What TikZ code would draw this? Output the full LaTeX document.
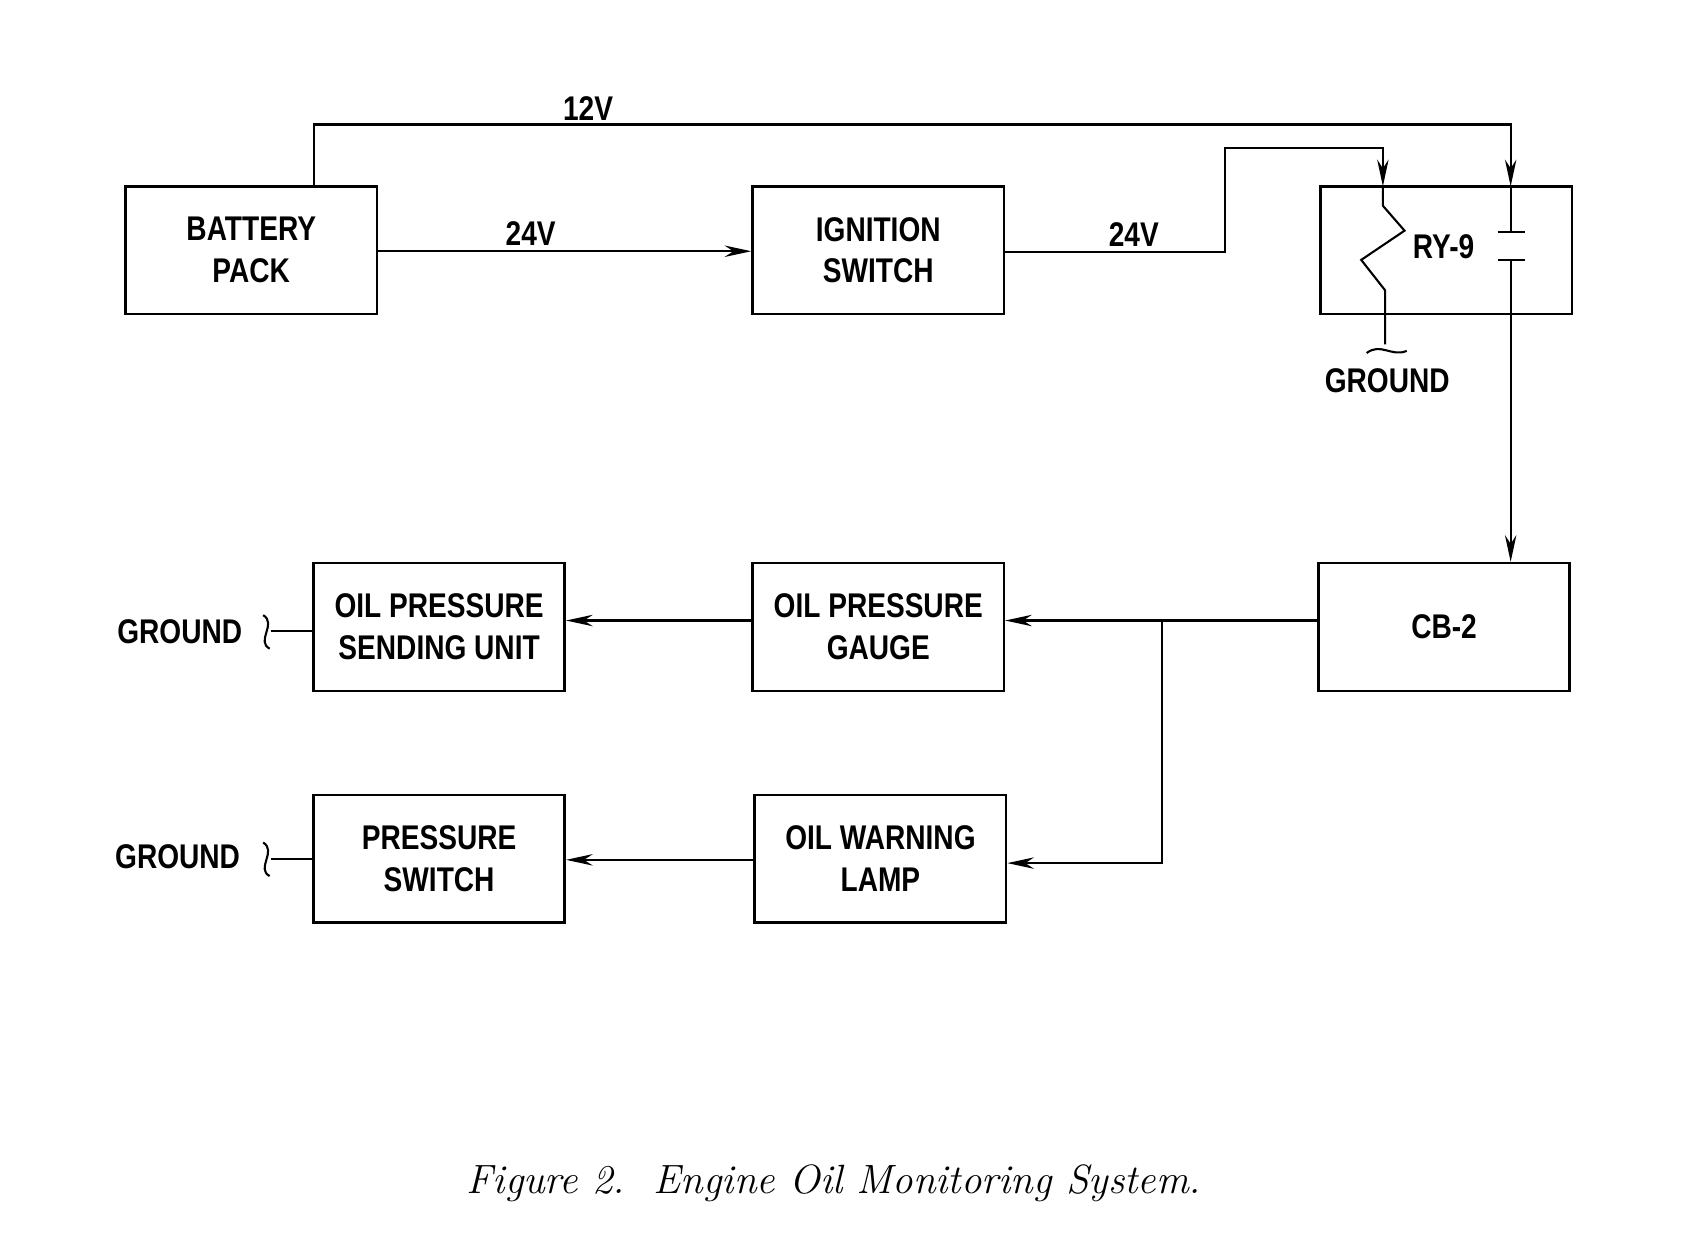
\documentclass[tikz,border=0pt]{standalone}
\usepackage{fontspec}
\setmainfont{Latin Modern Roman}
\newfontfamily\labf[FakeStretch=0.82]{Liberation Sans Bold}
\usetikzlibrary{arrows.meta}
\begin{document}
\begin{tikzpicture}[x=0.02cm,y=-0.02cm,
  box/.style={draw,line width=1.4pt,minimum width=4.64cm,minimum height=2.36cm,inner sep=0pt,align=center,font=\labf\fontsize{18}{22}\selectfont},
  lab/.style={font=\labf\fontsize{18}{22}\selectfont,inner sep=1pt},
  wire/.style={line width=1.1pt},
  arr/.style={wire,-{Stealth[length=14pt,width=6pt]}}]
\useasboundingbox (0,0) rectangle (1568,1161);
\node[box] (bat) at (232,231) {BATTERY\\PACK};
\node[box] (ign) at (811,231) {IGNITION\\SWITCH};
\node[box] (ry) at (1335.5,231) {};
\node[box] (cb) at (1333.5,579) {CB-2};
\node[box] (opsu) at (405.5,579) {OIL PRESSURE\\SENDING UNIT};
\node[box] (opg) at (811,579) {OIL PRESSURE\\GAUGE};
\node[box] (ps) at (405.5,793) {PRESSURE\\SWITCH};
\node[box] (owl) at (813,793) {OIL WARNING\\LAMP};
\node[lab] (ryl) at (1333,228) {RY-9};
\node[lab] (v12) at (543,100) {12V};
\node[lab] (v24a) at (490,216) {24V};
\node[lab] (v24b) at (1047,217) {24V};
\node[lab] (gr) at (1281,352) {GROUND};
\node[lab] (g1) at (166,583) {GROUND};
\node[lab] (g2) at (164,791) {GROUND};
\node[font=\itshape\fontsize{21.5}{26}\selectfont] (cap) at (770,1093) {Figure 2.\ \ Engine Oil Monitoring System.};
\coordinate (c12) at (1395,172);
\coordinate (c24) at (1277,172);
\draw[arr] (bat.north -| 290,0) |- (1395,115) -- (c12);
\draw[arr] (bat.east |- 0,232) -- (ign.west |- 0,232);
\draw[arr] (ign.east |- 0,233) -- (1131,233) |- (1277,137) -- (c24);
\draw[wire] (c24) -- (1277,190) -- (1297,213) -- (1257,240) -- (1279,268) -- (1279,318);
\draw[wire] (1262,326) .. controls (1275,316) and (1285,330) .. (1299,324);
\draw[wire] (c12) -- (1395,214);
\draw[wire] (1383,214) -- (1408,214) (1383,240) -- (1408,240);
\draw[arr] (1395,240) -- (cb.north -| 1395,0);
\coordinate (j) at (1073,573);
\draw[arr] (cb.west |- 0,573) -- (opg.east |- 0,573);
\draw[arr] (j) |- (owl.east |- 0,797);
\draw[arr] (opg.west |- 0,573) -- (opsu.east |- 0,573);
\draw[arr] (owl.west |- 0,794) -- (ps.east |- 0,794);
\draw[wire] (250,583) -- (opsu.west |- 0,583);
\draw[wire] (243,568) .. controls (256,576) and (236,592) .. (249,599);
\draw[wire] (250,793) -- (ps.west |- 0,793);
\draw[wire] (243,778) .. controls (256,786) and (236,802) .. (249,809);
\end{tikzpicture}
\end{document}
